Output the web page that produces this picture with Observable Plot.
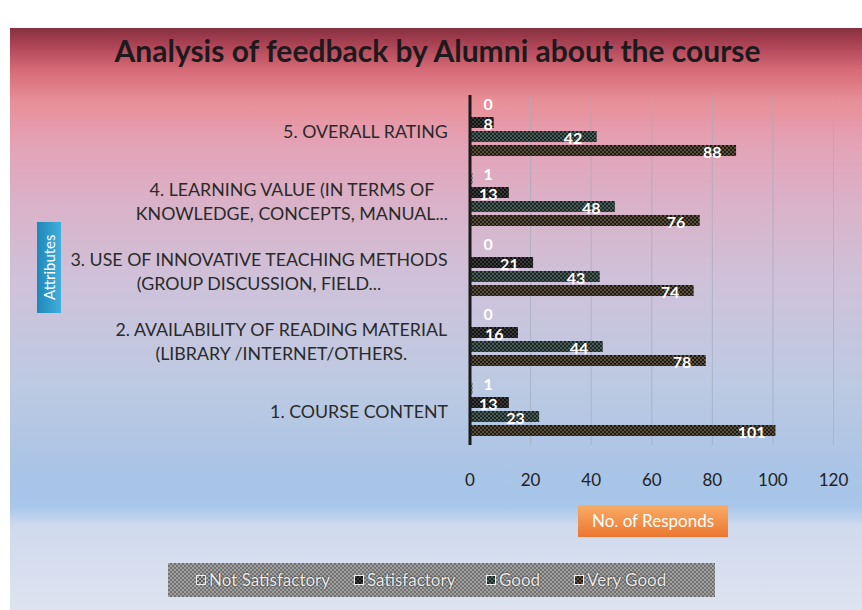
<!DOCTYPE html>
<html>
<head>
<meta charset="utf-8">
<script src="https://cdn.jsdelivr.net/npm/d3@7"></script>
<script src="https://cdn.jsdelivr.net/npm/@observablehq/plot@0.6"></script>
<style>
  html, body { margin: 0; padding: 0; background: #fff; }
  #wrap { position: relative; width: 862px; height: 610px; overflow: hidden; font-family: Lato, "Open Sans", sans-serif; }
  #bg { position: absolute; left: 10px; top: 28px; width: 852px; height: 582px;
    background: linear-gradient(to bottom,
      #86303f 0px, #ad4456 17px, #d66a76 42px, #e88e96 72px, #e4a2b6 115px,
      #dab2c8 175px, #cec2da 255px, #bdcae2 355px, #a9c4e6 445px, #a7c6ea 478px,
      #d0daee 498px, #dde3f0 582px); }
  #title { position: absolute; left: 0; top: 31px; width: 875px; text-align: center;
    font-weight: 700; font-size: 30px; line-height: 38px; color: #1c1a1c; }
  #ylab { position: absolute; left: 37px; top: 222px; width: 24px; height: 91px;
    background: linear-gradient(to right, #41aedc, #1f88ba); color: #fff; font-size: 15px;
    writing-mode: vertical-rl; transform: rotate(180deg); text-align: center; line-height: 24px; }
  #xlab { position: absolute; left: 578px; top: 505px; width: 150px; height: 32px;
    background: linear-gradient(to bottom, #f9ac66, #ec7630); color: #fff; font-size: 17px;
    line-height: 32px; text-align: center; }
  #legend { position: absolute; left: 168px; top: 563px; width: 547px; height: 34px;
    background: repeating-conic-gradient(#707070 0 25%, #a2a2a2 0 50%) 0 0 / 4px 4px; }
  .li { position: absolute; top: 0; height: 34px; line-height: 34px; font-size: 17px; color: #ececec;
    text-shadow: 0 0 2px #333, 0 0 1px #333; white-space: nowrap; }
  .sw { display: inline-block; width: 8px; height: 8px; border: 1px solid #eee; margin-right: 3px; vertical-align: 1px; }
  #chart { position: absolute; left: 0; top: 60px; }
</style>
</head>
<body>
<svg width="0" height="0" style="position:absolute">
  <defs>
    <pattern id="pNS" width="4" height="4" patternUnits="userSpaceOnUse">
      <rect width="4" height="4" fill="#5a5a5a"/><rect width="2" height="2" fill="#a8a8a8"/><rect x="2" y="2" width="2" height="2" fill="#a8a8a8"/>
    </pattern>
    <pattern id="pSat" width="4" height="4" patternUnits="userSpaceOnUse">
      <rect width="4" height="4" fill="#121212"/><rect width="2" height="2" fill="#3a3a3a"/><rect x="2" y="2" width="2" height="2" fill="#3a3a3a"/>
    </pattern>
    <pattern id="pGood" width="4" height="4" patternUnits="userSpaceOnUse">
      <rect width="4" height="4" fill="#1a2624"/><rect width="2" height="2" fill="#4a5c58"/><rect x="2" y="2" width="2" height="2" fill="#4a5c58"/>
    </pattern>
    <pattern id="pVG" width="4" height="4" patternUnits="userSpaceOnUse">
      <rect width="4" height="4" fill="#1e1b16"/><rect width="2" height="2" fill="#5e513c"/><rect x="2" y="2" width="2" height="2" fill="#5e513c"/>
    </pattern>
  </defs>
</svg>
<div id="wrap">
  <div id="bg"></div>
  <div id="title">Analysis of feedback by Alumni about the course</div>
  <div id="chart"></div>
  <div id="ylab">Attributes</div>
  <div id="xlab">No. of Responds</div>
  <div id="legend"></div>
</div>
<script>
// ---- data ----
const categories = [
  "1. COURSE CONTENT",
  "2. AVAILABILITY OF READING MATERIAL\n(LIBRARY /INTERNET/OTHERS.",
  "3. USE OF INNOVATIVE TEACHING METHODS\n(GROUP DISCUSSION, FIELD...",
  "4. LEARNING VALUE (IN TERMS OF\nKNOWLEDGE, CONCEPTS, MANUAL...",
  "5. OVERALL RATING"
];
const series = ["Not Satisfactory", "Satisfactory", "Good", "Very Good"];
const notSatisfactory = [1, 0, 0, 1, 0];
const satisfactory = [13, 16, 21, 13, 8];
const good = [23, 44, 43, 48, 42];
const veryGood = [101, 78, 74, 76, 88];
const xTicks = [0, 20, 40, 60, 80, 100, 120];

const patterns = ["url(#pNS)", "url(#pSat)", "url(#pGood)", "url(#pVG)"];
const seriesValues = [notSatisfactory, satisfactory, good, veryGood];

const rows = [];
categories.forEach((cat, i) => {
  series.forEach((s, j) => rows.push({cat, series: s, value: seriesValues[j][i]}));
});

// measure label blocks so that lines are centred within a right-aligned block
const labelSize = 17.8;
const ctx = document.createElement("canvas").getContext("2d");
ctx.font = labelSize + "px Lato";
const blockWidth = c => Math.max(...c.split("\n").map(l => ctx.measureText(l).width));
const gap = 22;

const labelMarks = categories.map(c => Plot.text([c], {
  fy: d => d, text: d => d, frameAnchor: "left", textAnchor: "middle",
  dx: -(gap + blockWidth(c) / 2), fontSize: labelSize, lineHeight: 1.36, fill: "#2a2a2a"
}));

const nsRows = rows.filter(d => d.series === series[0]);
const otherRows = rows.filter(d => d.series !== series[0]);
const labelX = d => Math.max(d.value - 8, 6);

const chart = Plot.plot({
  width: 862,
  height: 450,
  marginLeft: 469.5,
  marginRight: 29,
  marginTop: 34,
  marginBottom: 64,
  style: {background: "transparent", fontFamily: "Lato, 'Open Sans', sans-serif", overflow: "visible"},
  x: {domain: [0, 120]},
  fy: {domain: categories.slice().reverse(), padding: 0, axis: null},
  y: {domain: series, paddingInner: 0.18, paddingOuter: 0.485, axis: null},
  color: {type: "ordinal", domain: series, range: patterns},
  marks: [
    Plot.gridX(xTicks.slice(1), {stroke: "#a4acbe", strokeOpacity: 0.7, strokeWidth: 1}),
    Plot.barX(rows, {fy: "cat", y: "series", x: "value", fill: "series"}),
    Plot.text(otherRows, {fy: "cat", y: "series", x: labelX, text: d => String(d.value),
      fill: "white", fontSize: 16, fontWeight: 700, dy: 2, textAnchor: "middle"}),
    Plot.text(nsRows, {fy: "cat", y: "series", x: labelX, text: d => String(d.value),
      fill: "white", fontSize: 16, fontWeight: 700, dy: -4, textAnchor: "middle"}),
    Plot.ruleX([0], {stroke: "#1a1a1a", strokeWidth: 3}),
    Plot.axisX({ticks: xTicks, tickSize: 0, tickPadding: 28, fontSize: 17, fill: "#222", label: null, tickFormat: d => String(d)}),
    ...labelMarks
  ]
});
document.getElementById("chart").appendChild(chart);

// legend
const legendPos = [28, 186, 318, 406];
const legend = document.getElementById("legend");
series.forEach((s, i) => {
  const item = document.createElement("span");
  item.className = "li";
  item.style.left = legendPos[i] + "px";
  const sw = document.createElement("span");
  sw.className = "sw";
  const svgNS = "http://www.w3.org/2000/svg";
  const svg = document.createElementNS(svgNS, "svg");
  svg.setAttribute("width", 8); svg.setAttribute("height", 8);
  svg.style.display = "block";
  const r = document.createElementNS(svgNS, "rect");
  r.setAttribute("width", 8); r.setAttribute("height", 8); r.setAttribute("fill", patterns[i]);
  svg.appendChild(r); sw.appendChild(svg);
  item.appendChild(sw);
  item.appendChild(document.createTextNode(s));
  legend.appendChild(item);
});
</script>
</body>
</html>
